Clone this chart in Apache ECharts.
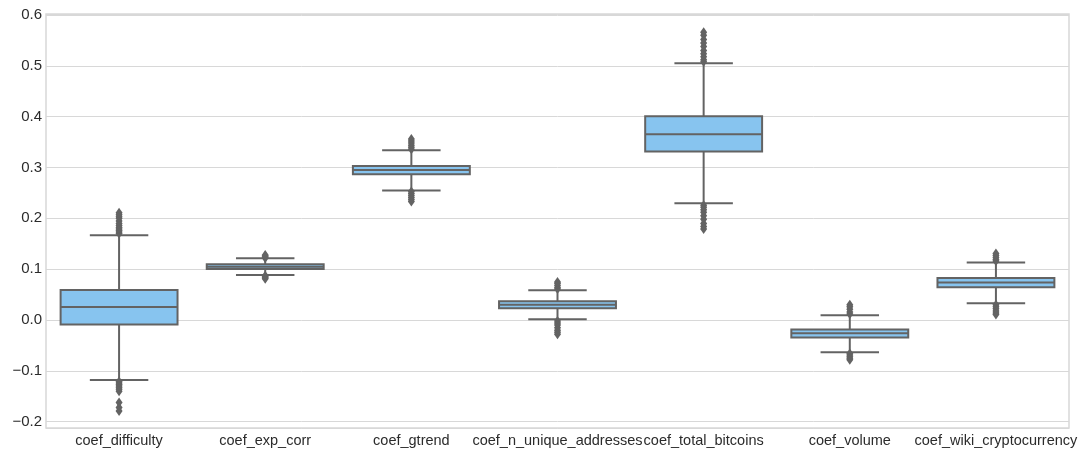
<!DOCTYPE html>
<html><head><meta charset="utf-8">
<script src="https://cdn.jsdelivr.net/npm/echarts@6/dist/echarts.min.js"></script>
<style>html,body{margin:0;padding:0;background:#fff}#c{width:1090px;height:452px}</style>
</head><body><div id="c"></div>
<script>
const categories = ['coef_difficulty','coef_exp_corr','coef_gtrend','coef_n_unique_addresses','coef_total_bitcoins','coef_volume','coef_wiki_cryptocurrency'];
const whiskerLow  = [-0.118, 0.0886, 0.255, 0.0014, 0.2297, -0.0636, 0.033];
const q1          = [-0.0090, 0.1004, 0.287, 0.023, 0.3315, -0.0345, 0.0644];
const median      = [0.0256, 0.1050, 0.295, 0.030, 0.3655, -0.026, 0.074];
const q3          = [0.0590, 0.1096, 0.303, 0.0368, 0.401, -0.0185, 0.0827];
const whiskerHigh = [0.1667, 0.1215, 0.334, 0.0585, 0.505, 0.0093, 0.113];
const outliersHigh = [
  [0.170, 0.173, 0.176, 0.179, 0.182, 0.186, 0.190, 0.195, 0.200, 0.203, 0.207, 0.211],
  [0.122, 0.124, 0.126, 0.128],
  [0.336, 0.340, 0.344, 0.348, 0.352, 0.356],
  [0.061, 0.064, 0.068, 0.072, 0.075],
  [0.508, 0.512, 0.518, 0.524, 0.530, 0.538, 0.545, 0.552, 0.560, 0.566],
  [0.012, 0.016, 0.021, 0.026, 0.030],
  [0.116, 0.119, 0.123, 0.127, 0.131]
];
const outliersLow = [
  [-0.121, -0.124, -0.127, -0.130, -0.133, -0.136, -0.140, -0.162, -0.172, -0.179],
  [0.087, 0.085, 0.083, 0.081],
  [0.253, 0.249, 0.245, 0.241, 0.237, 0.233],
  [-0.002, -0.006, -0.010, -0.015, -0.020, -0.024, -0.028],
  [0.226, 0.222, 0.217, 0.212, 0.205, 0.198, 0.190, 0.184, 0.179],
  [-0.066, -0.069, -0.072, -0.075, -0.078],
  [0.030, 0.026, 0.022, 0.018, 0.014, 0.011]
];
const yTicks = [-0.2, -0.1, 0.0, 0.1, 0.2, 0.3, 0.4, 0.5, 0.6];
const yTickLabels = ['\u22120.2', '\u22120.1', '0.0', '0.1', '0.2', '0.3', '0.4', '0.5', '0.6'];

const GRAY = '#636363';
const FILL = '#87c4ef';
const GRID = '#d8d8d8';
const FONT = 'Liberation Sans, Arial, sans-serif';

const boxData = categories.map((c, i) => [i, whiskerLow[i], q1[i], median[i], q3[i], whiskerHigh[i]]);
const flierData = [];
categories.forEach((c, i) => {
  outliersHigh[i].forEach(v => flierData.push([i, v]));
  outliersLow[i].forEach(v => flierData.push([i, v]));
});

function renderBox(params, api) {
  const idx = api.value(0);
  const p = v => api.coord([idx, v]);
  const lo = p(api.value(1));
  const cx = lo[0], yLo = lo[1];
  const yQ1 = p(api.value(2))[1], yMed = p(api.value(3))[1], yQ3 = p(api.value(4))[1], yHi = p(api.value(5))[1];
  const band = api.size([1, 0])[0];
  const bw = band * 0.8, cw = bw / 2;
  const ls = {stroke: GRAY, lineWidth: 2};
  return {type: 'group', children: [
    {type: 'line', shape: {x1: cx, y1: yQ1, x2: cx, y2: yLo}, style: ls},
    {type: 'line', shape: {x1: cx, y1: yQ3, x2: cx, y2: yHi}, style: ls},
    {type: 'line', shape: {x1: cx - cw / 2, y1: yLo, x2: cx + cw / 2, y2: yLo}, style: ls},
    {type: 'line', shape: {x1: cx - cw / 2, y1: yHi, x2: cx + cw / 2, y2: yHi}, style: ls},
    {type: 'rect', shape: {x: cx - bw / 2, y: yQ3, width: bw, height: yQ1 - yQ3}, style: {fill: FILL, stroke: GRAY, lineWidth: 2}},
    {type: 'line', shape: {x1: cx - bw / 2, y1: yMed, x2: cx + bw / 2, y2: yMed}, style: ls}
  ]};
}

const chart = echarts.init(document.getElementById('c'), null, {renderer: 'canvas'});
chart.setOption({
  animation: false,
  backgroundColor: '#ffffff',
  grid: {left: 46, right: 21, top: 14, bottom: 24, show: true, borderColor: GRID, borderWidth: 1.5, backgroundColor: 'transparent'},
  xAxis: {
    type: 'category', data: categories, boundaryGap: true,
    axisLine: {show: false}, axisTick: {show: false}, splitLine: {show: false},
    axisLabel: {interval: 0, margin: 5, fontSize: 14.5, color: '#2b2b2b', fontFamily: FONT}
  },
  yAxis: {
    type: 'value', min: -0.2124, max: 0.602, splitNumber: 8,
    axisLine: {show: false}, axisTick: {show: false},
    splitLine: {lineStyle: {color: GRID, width: 1}},
    axisLabel: {
      margin: 4, fontSize: 15, color: '#2b2b2b', fontFamily: FONT,
      formatter: v => {
        for (let k = 0; k < yTicks.length; k++) if (Math.abs(v - yTicks[k]) < 1e-6) return yTickLabels[k];
        return '';
      }
    }
  },
  series: [
    {type: 'custom', renderItem: renderBox, data: boxData, encode: {x: 0, y: [1, 2, 3, 4, 5]}, z: 2},
    {type: 'scatter', data: flierData, symbol: 'diamond', symbolSize: [7, 10],
     itemStyle: {color: GRAY, opacity: 1}, z: 3}
  ]
});
</script></body></html>
